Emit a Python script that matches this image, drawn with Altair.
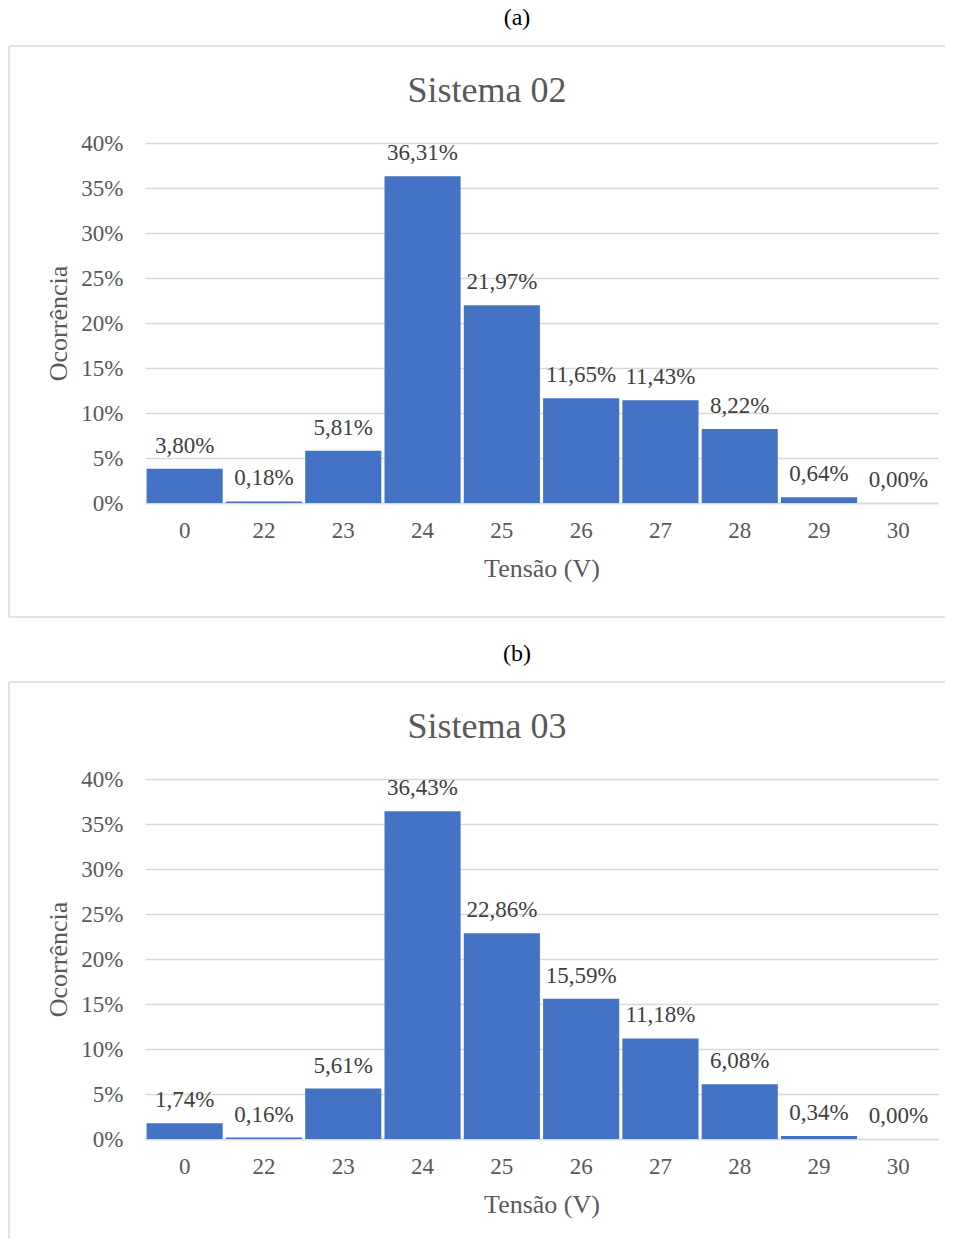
import altair as alt
import pandas as pd

# ---- data ----
categories = ["0", "22", "23", "24", "25", "26", "27", "28", "29", "30"]
sistema02 = [3.80, 0.18, 5.81, 36.31, 21.97, 11.65, 11.43, 8.22, 0.64, 0.00]
sistema03 = [1.74, 0.16, 5.61, 36.43, 22.86, 15.59, 11.18, 6.08, 0.34, 0.00]
y_ticks = [0.0, 0.05, 0.10, 0.15, 0.20, 0.25, 0.30, 0.35, 0.40]

FONT = "Liberation Serif"
BAR = "#4472C4"
GRID = "#d9d9d9"
TXT = "#595959"


def panel(values, title, caption, frame_bottom, closed):
    df = pd.DataFrame({
        "tensao": categories,
        "ocorrencia": [v / 100 for v in values],
        "rotulo": [f"{v:.2f}".replace(".", ",") + "%" for v in values],
    })
    x = alt.X(
        "tensao:N", sort=categories,
        scale=alt.Scale(paddingInner=0.04, paddingOuter=0.02),
        axis=alt.Axis(title="Tensão (V)", labelAngle=0, ticks=False, labelPadding=16,
                      titlePadding=13, domainColor=GRID, domainWidth=1.5, grid=False),
    )
    y = alt.Y(
        "ocorrencia:Q", scale=alt.Scale(domain=[0, 0.4], nice=False),
        axis=alt.Axis(title="Ocorrência", values=y_ticks, format=".0%", ticks=False,
                      domain=False, labelPadding=22, titlePadding=9,
                      gridColor=GRID, gridWidth=1.5),
    )
    base = alt.Chart(df)
    bars = base.mark_bar(color=BAR).encode(x=x, y=y)
    labels = base.mark_text(font=FONT, fontSize=23, color="#404040",
                            baseline="alphabetic", dy=-16).encode(
        x=alt.X("tensao:N", sort=categories), y="ocorrencia:Q", text="rotulo:N")

    one = alt.Chart(pd.DataFrame({"t": [caption], "titulo": [title]}))
    cap = one.mark_text(font=FONT, fontSize=24, color="#000000", baseline="middle").encode(
        text="t:N", x=alt.value(372), y=alt.value(-125))
    ttl = one.mark_text(font=FONT, fontSize=36, color=TXT, baseline="alphabetic").encode(
        text="titulo:N", x=alt.value(342), y=alt.value(-41))
    top = one.mark_rule(color=GRID, strokeWidth=1.5).encode(
        x=alt.value(-136), x2=alt.value(800), y=alt.value(-97))
    left = one.mark_rule(color=GRID, strokeWidth=1.5).encode(
        x=alt.value(-136), y=alt.value(-97), y2=alt.value(frame_bottom))
    layers = [bars, labels, cap, ttl, top, left]
    if closed:
        bottom = one.mark_rule(color=GRID, strokeWidth=1.5).encode(
            x=alt.value(-136), x2=alt.value(800), y=alt.value(frame_bottom))
        layers.append(bottom)
    return alt.layer(*layers).properties(width=793, height=360)


chart = alt.vconcat(
    panel(sistema02, "Sistema 02", "(a)", 474, True),
    panel(sistema03, "Sistema 03", "(b)", 460, False),
    spacing=276, bounds="flush",
).properties(
    padding={"top": -2, "left": 0, "right": 0, "bottom": 0}
).configure_view(stroke=None).configure_axis(
    labelFont=FONT, titleFont=FONT, labelColor=TXT, titleColor=TXT,
    titleFontWeight="normal", labelFontSize=23, titleFontSize=26,
)

chart.save("out.html", embed_options={"renderer": "svg", "actions": False})
